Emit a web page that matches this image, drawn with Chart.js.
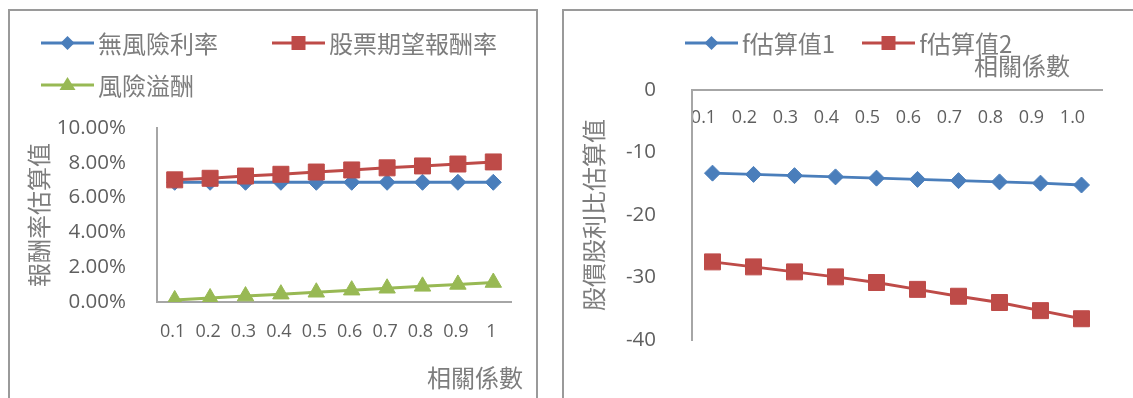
<!DOCTYPE html>
<html>
<head>
<meta charset="utf-8">
<script src="https://cdn.jsdelivr.net/npm/chart.js@4.4.1/dist/chart.umd.min.js"></script>
<style>
  html, body { margin: 0; padding: 0; background: #fff; }
  body { position: relative; width: 1133px; height: 398px; overflow: hidden; }
  .frame { position: absolute; border: 2px solid #9a9a9a; box-sizing: border-box; }
  .plot { position: absolute; top: 0; }
  .legend { position: absolute; display: flex; flex-wrap: wrap; align-items: center;
            font-family: "Noto Sans CJK TC", sans-serif; font-size: 24px; line-height: 24px; color: #7d7d7d; }
  .legend .item { display: flex; align-items: center; white-space: nowrap; }
  .legend canvas { display: block; margin-right: 4px; }
  .axis-title { position: absolute; font-family: "Noto Sans CJK TC", sans-serif; font-size: 24px;
                line-height: 24px; color: #7d7d7d; white-space: nowrap; text-align: right; }
</style>
</head>
<body>
<div class="frame" style="left:8px;top:9px;width:530px;height:400px"></div>
<div class="frame" style="left:562px;top:9px;width:600px;height:400px"></div>

<canvas id="rateChart" class="plot" width="545" height="398" style="left:0"></canvas>
<canvas id="peChart" class="plot" width="588" height="398" style="left:545px"></canvas>

<div id="rateLegend" class="legend" style="left:41px;top:31px;width:470px;column-gap:54px;row-gap:18px"></div>
<div id="peLegend" class="legend" style="left:685px;top:31px;column-gap:27px"></div>

<div class="axis-title" style="right:610px;top:365px">相關係數</div>
<div class="axis-title" style="right:63px;top:53px">相關係數</div>

<script>
// 相關係數 categories
const corrLabels      = ['0.1', '0.2', '0.3', '0.4', '0.5', '0.6', '0.7', '0.8', '0.9', '1'];
const corrLabelsFixed = ['0.1', '0.2', '0.3', '0.4', '0.5', '0.6', '0.7', '0.8', '0.9', '1.0'];

// 報酬率估算值 (%)
const riskFreeRate   = [6.88, 6.88, 6.88, 6.88, 6.88, 6.88, 6.88, 6.88, 6.88, 6.88];
const expectedReturn = [7.02, 7.11, 7.24, 7.34, 7.47, 7.59, 7.71, 7.82, 7.93, 8.05];
const riskPremium    = [0.12, 0.23, 0.34, 0.45, 0.56, 0.68, 0.79, 0.90, 1.01, 1.12];

// 股價股利比估算值
const fEstimate1 = [-13.3, -13.5, -13.7, -13.9, -14.1, -14.3, -14.5, -14.7, -14.9, -15.2];
const fEstimate2 = [-27.5, -28.3, -29.1, -29.9, -30.8, -31.9, -33.0, -34.0, -35.3, -36.6];

// axis tick values
const rateTicks = [0, 2, 4, 6, 8, 10];
const peTicks   = [0, -10, -20, -30, -40];

const BLUE = '#4a7ebb', RED = '#be4b48', GREEN = '#98b954';
const TEXT = '#5f5f5f', AXIS = '#a6a6a6', TITLE = '#7d7d7d';
const NUM_FONT = { family: '"Open Sans", sans-serif', size: 20.5 };
const CJK_FONT = { family: '"Noto Sans CJK TC", sans-serif', size: 24 };

function series(label, data, color, pointStyle, radius, order) {
  return {
    label, data, order,
    borderColor: color, backgroundColor: color,
    borderWidth: 3,
    pointStyle, pointRadius: radius,
    pointBackgroundColor: color, pointBorderColor: color, pointBorderWidth: 1,
    tension: 0
  };
}

function fixedTicks(values) {
  return scale => { scale.ticks = values.map(v => ({ value: v })); };
}

// small swatch: a line with the series marker in the middle
function legendSwatch(ds) {
  const c = document.createElement('canvas');
  c.width = 53; c.height = 22;
  const g = c.getContext('2d');
  const cx = 26.5, cy = 11;
  g.strokeStyle = ds.borderColor; g.lineWidth = 3;
  g.beginPath(); g.moveTo(0, cy); g.lineTo(53, cy); g.stroke();
  g.fillStyle = ds.borderColor;
  g.beginPath();
  if (ds.pointStyle === 'rectRot') {
    g.moveTo(cx - 7, cy); g.lineTo(cx, cy - 7); g.lineTo(cx + 7, cy); g.lineTo(cx, cy + 7);
  } else if (ds.pointStyle === 'rect') {
    g.rect(cx - 7, cy - 7, 14, 14);
  } else {
    g.moveTo(cx, cy - 8); g.lineTo(cx + 8, cy + 5); g.lineTo(cx - 8, cy + 5);
  }
  g.closePath(); g.fill();
  return c;
}

function buildLegend(chart, el) {
  chart.data.datasets.forEach(ds => {
    const item = document.createElement('span');
    item.className = 'item';
    item.appendChild(legendSwatch(ds));
    const t = document.createElement('span');
    t.textContent = ds.label;
    item.appendChild(t);
    el.appendChild(item);
  });
}

const common = {
  responsive: false,
  animation: false,
  events: [],
  plugins: { legend: { display: false }, tooltip: { enabled: false } }
};

const rateChart = new Chart(document.getElementById('rateChart'), {
  type: 'line',
  data: {
    labels: corrLabels,
    datasets: [
      series('無風險利率', riskFreeRate, BLUE, 'rectRot', 8, 3),
      series('股票期望報酬率', expectedReturn, RED, 'rect', 11.3, 2),
      series('風險溢酬', riskPremium, GREEN, 'triangle', 9.5, 1)
    ]
  },
  options: {
    ...common,
    layout: { padding: { left: 0, top: 128, right: 34, bottom: 0 } },
    scales: {
      x: {
        type: 'category', offset: true,
        grid: { display: false },
        border: { display: true, color: AXIS, width: 2 },
        ticks: { color: TEXT, font: { ...NUM_FONT, size: 18 }, padding: 11, labelOffset: -2, maxRotation: 0, autoSkip: false },
        afterFit: s => { s.height = 96; }
      },
      y: {
        min: 0, max: 10,
        afterBuildTicks: fixedTicks(rateTicks),
        grid: { display: false },
        border: { display: true, color: AXIS, width: 2 },
        ticks: { color: TEXT, font: NUM_FONT, padding: 23, callback: v => v.toFixed(2) + '%' },
        title: { display: true, text: '報酬率估算值', color: TITLE, font: CJK_FONT, padding: { top: 24, bottom: 0 } },
        afterFit: s => { s.width = 157; }
      }
    }
  }
});

const peChart = new Chart(document.getElementById('peChart'), {
  type: 'line',
  data: {
    labels: corrLabelsFixed,
    datasets: [
      series('f估算值1', fEstimate1, BLUE, 'rectRot', 8, 2),
      series('f估算值2', fEstimate2, RED, 'rect', 11.3, 1)
    ]
  },
  options: {
    ...common,
    layout: { padding: { left: 0, top: 90, right: 31, bottom: 58 } },
    scales: {
      x: {
        type: 'category', offset: true,
        position: { y: 0 },
        grid: { display: false },
        border: { display: true, color: AXIS, width: 2 },
        ticks: { color: TEXT, font: { ...NUM_FONT, size: 18 }, padding: 9, labelOffset: -9, maxRotation: 0, autoSkip: false }
      },
      y: {
        min: -40, max: 0,
        afterBuildTicks: fixedTicks(peTicks),
        grid: { display: false },
        border: { display: true, color: AXIS, width: 2 },
        ticks: { color: TEXT, font: NUM_FONT, padding: 28 },
        title: { display: true, text: '股價股利比估算值', color: TITLE, font: CJK_FONT, padding: { top: 34, bottom: 0 } },
        afterFit: s => { s.width = 147; }
      }
    }
  }
});

buildLegend(rateChart, document.getElementById('rateLegend'));
buildLegend(peChart, document.getElementById('peLegend'));
</script>
</body>
</html>
